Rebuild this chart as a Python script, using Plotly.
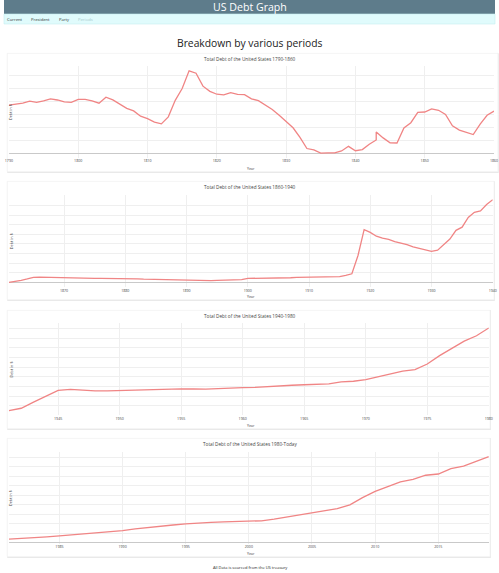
import plotly.graph_objects as go

# ---- data (debt in millions of $) ----
years_1790_1860 = [1790, 1791, 1792, 1793, 1794, 1795, 1796, 1797, 1798, 1799,
                   1800, 1801, 1802, 1803, 1804, 1805, 1806, 1807, 1808, 1809,
                   1810, 1811, 1812, 1813, 1814, 1815, 1816, 1817, 1818, 1819,
                   1820, 1821, 1822, 1823, 1824, 1825, 1826, 1827, 1828, 1829,
                   1830, 1831, 1832, 1833, 1834, 1835, 1836, 1837, 1838, 1839,
                   1840, 1841, 1842, 1843, 1843, 1844, 1845, 1846, 1847, 1848,
                   1849, 1850, 1851, 1852, 1853, 1854, 1855, 1856, 1857, 1858,
                   1859, 1860]
debt_1790_1860 = [74.0, 75.5, 77.2, 80.4, 78.4, 80.7, 83.8, 82.1, 79.2, 78.4,
                  83.0, 83.0, 80.7, 77.1, 86.4, 82.3, 75.7, 69.2, 65.2, 57.0,
                  53.2, 48.0, 45.2, 56.0, 81.5, 99.8, 127.3, 123.5, 103.5, 95.5,
                  91.0, 90.0, 93.5, 90.9, 90.3, 83.8, 81.1, 74.0, 67.5, 58.4,
                  48.6, 39.1, 24.3, 7.0, 4.8, 0.04, 0.34, 0.34, 3.3, 10.4,
                  3.6, 5.3, 13.6, 20.2, 32.7, 23.5, 15.9, 15.6, 38.8, 47.0,
                  63.1, 63.5, 68.3, 66.2, 59.8, 42.2, 35.6, 32.0, 28.7, 44.9,
                  58.5, 64.8]

years_1860_1940 = list(range(1861, 1941))
debt_1860_1940 = [91, 524, 1120, 1816, 2678, 2756, 2650, 2583, 2545, 2437,
                  2322, 2210, 2151, 2160, 2156, 2131, 2108, 2159, 2299, 2091,
                  2019, 1857, 1722, 1625, 1579, 1556, 1466, 1385, 1250, 1122,
                  1006, 968, 961, 1017, 1097, 1223, 1227, 1233, 1437, 2137,
                  2143, 2159, 2203, 2264, 2275, 2337, 2457, 2627, 2640, 2653,
                  2766, 2868, 2916, 2913, 3058, 3700, 4500, 14000, 27400, 26000,
                  24000, 23000, 22350, 21250, 20500, 19640, 18510, 17600, 16930, 16190,
                  16800, 19490, 22540, 27050, 28700, 33780, 36420, 37160, 40440, 42970]

years_1940_1980 = list(range(1941, 1981))
debt_1940_1980 = [48961, 72422, 136696, 201003, 258682, 269422, 258286, 252292, 252770, 257357,
                  255222, 259105, 266071, 271260, 274374, 272751, 270527, 276343, 284706, 286331,
                  288971, 298201, 305860, 311713, 317274, 319907, 326221, 347578, 353720, 370919,
                  398130, 427260, 458142, 475060, 533189, 620433, 698840, 771544, 826519, 907701]

years_1980_today = list(range(1981, 2020))
debt_1980_today = [998000, 1142000, 1377000, 1572000, 1823000, 2125000, 2350000, 2602000, 2857000, 3233000,
                   3665000, 4065000, 4411000, 4693000, 4974000, 5225000, 5413000, 5526000, 5656000, 5674000,
                   5807000, 6228000, 6783000, 7379000, 7933000, 8507000, 9008000, 10025000, 11910000, 13562000,
                   14790000, 16066000, 16738000, 17824000, 18151000, 19573000, 20245000, 21516000, 22719000]

chart_titles = ["Total Debt of the United States 1790-1860",
                "Total Debt of the United States 1860-1940",
                "Total Debt of the United States 1940-1980",
                "Total Debt of the United States 1980-Today"]
nav_items = ["Current", "President", "Party", "Periods"]

W, H = 499, 573


def fx(x):
    return x / W


def fy(y):
    return 1 - y / H


def label(text, x, y, size, color="#444444", angle=0):
    # centred text at a pixel position
    return dict(text=text, x=fx(x), y=fy(y), xref="paper", yref="paper", showarrow=False,
                xanchor="center", yanchor="middle", textangle=angle,
                font=dict(family=font, size=size, color=color))


series = [(years_1790_1860, debt_1790_1860, 10, 20),
          (years_1860_1940, debt_1860_1940, 10, 5000),
          (years_1940_1980, debt_1940_1980, 5, 100000),
          (years_1980_today, debt_1980_today, 5, 2500000)]

# plot areas in pixels: left, right, top, bottom
areas = [(5, 498, 66.2, 157.6),
         (5, 496.7, 195.1, 286.9),
         (5, 492.7, 323.4, 415.1),
         (5, 492.7, 452.1, 543.6)]
cards = [(3.3, 502, 53.3, 171.7),
         (3.3, 498, 181.3, 299.7),
         (3.3, 494, 310.3, 428.7),
         (3.3, 494, 438.3, 556.7)]

fig = go.Figure()
font = "Open Sans, sans-serif"
shapes = []
annotations = []
layout = {}

# header + nav
shapes.append(dict(type="rect", xref="paper", yref="paper", x0=0, x1=1, y0=fy(14), y1=1,
                   fillcolor="#5e7c8b", line_width=0, layer="below"))
shapes.append(dict(type="rect", xref="paper", yref="paper", x0=0, x1=1, y0=fy(24), y1=fy(14),
                   fillcolor="#e0fbfc", line=dict(color="#c6eef0", width=0.6), layer="below"))
annotations.append(label("US Debt Graph", 250, 7.3, 10.6, "white"))
for name, cx in zip(nav_items, [11.5, 37, 61, 83]):
    annotations.append(label(name, cx, 19, 4.2, "#a6c9cc" if name == "Periods" else "#333333"))
annotations.append(label("Breakdown by various periods", 250, 42.7, 10.3, "#222222"))
annotations.append(label("All Data is sourced from the US treasury", 250, 567.3, 4, "#222222"))

for i, ((xs, ys, xdt, ydt), (l, r, t, b), (cl, cr, ct, cb), title) in enumerate(
        zip(series, areas, cards, chart_titles)):
    n = "" if i == 0 else str(i + 1)
    # card with soft shadow
    shapes.append(dict(type="rect", xref="paper", yref="paper", x0=fx(cl), x1=fx(cr + 0.8),
                       y0=fy(cb + 1.2), y1=fy(ct), fillcolor="#e9e9e9", line_width=0, layer="below"))
    shapes.append(dict(type="rect", xref="paper", yref="paper", x0=fx(cl), x1=fx(cr),
                       y0=fy(cb), y1=fy(ct), fillcolor="white",
                       line=dict(color="#f0f0f0", width=0.6), layer="below"))
    fig.add_trace(go.Scatter(x=xs, y=ys, mode="lines", xaxis="x" + n, yaxis="y" + n,
                             line=dict(color="#f08585", width=1.3), showlegend=False))
    layout["xaxis" + n] = dict(domain=[fx(l), fx(r)], anchor="y" + n, dtick=xdt,
                               showgrid=True, gridcolor="#efefef", gridwidth=0.6,
                               zeroline=False, showline=False, ticks="",
                               tickfont=dict(family=font, size=3.6, color="#444444"))
    layout["yaxis" + n] = dict(domain=[fy(b), fy(t)], anchor="x" + n, dtick=ydt,
                               showgrid=True, gridcolor="#efefef", gridwidth=0.6,
                               zeroline=True, zerolinecolor="#c9c9c9", zerolinewidth=1,
                               showticklabels=False, ticks="")
    annotations.append(label(title, 250, ct + 5.5, 4.7))
    annotations.append(label("Year", 251, cb - 3.0, 3.6))
    annotations.append(label("Debt in $", 7.3, (t + b) / 2, 3.8, angle=-90))

fig.update_layout(width=W, height=H, margin=dict(l=0, r=0, t=0, b=0),
                  paper_bgcolor="white", plot_bgcolor="rgba(0,0,0,0)",
                  shapes=shapes, annotations=annotations, **layout)

# the page's default body margin would shift the figure and add scrollbars
fig.write_html("out.html", config={"displayModeBar": False},
               post_script="document.body.style.margin='0';document.body.style.overflow='hidden';")
